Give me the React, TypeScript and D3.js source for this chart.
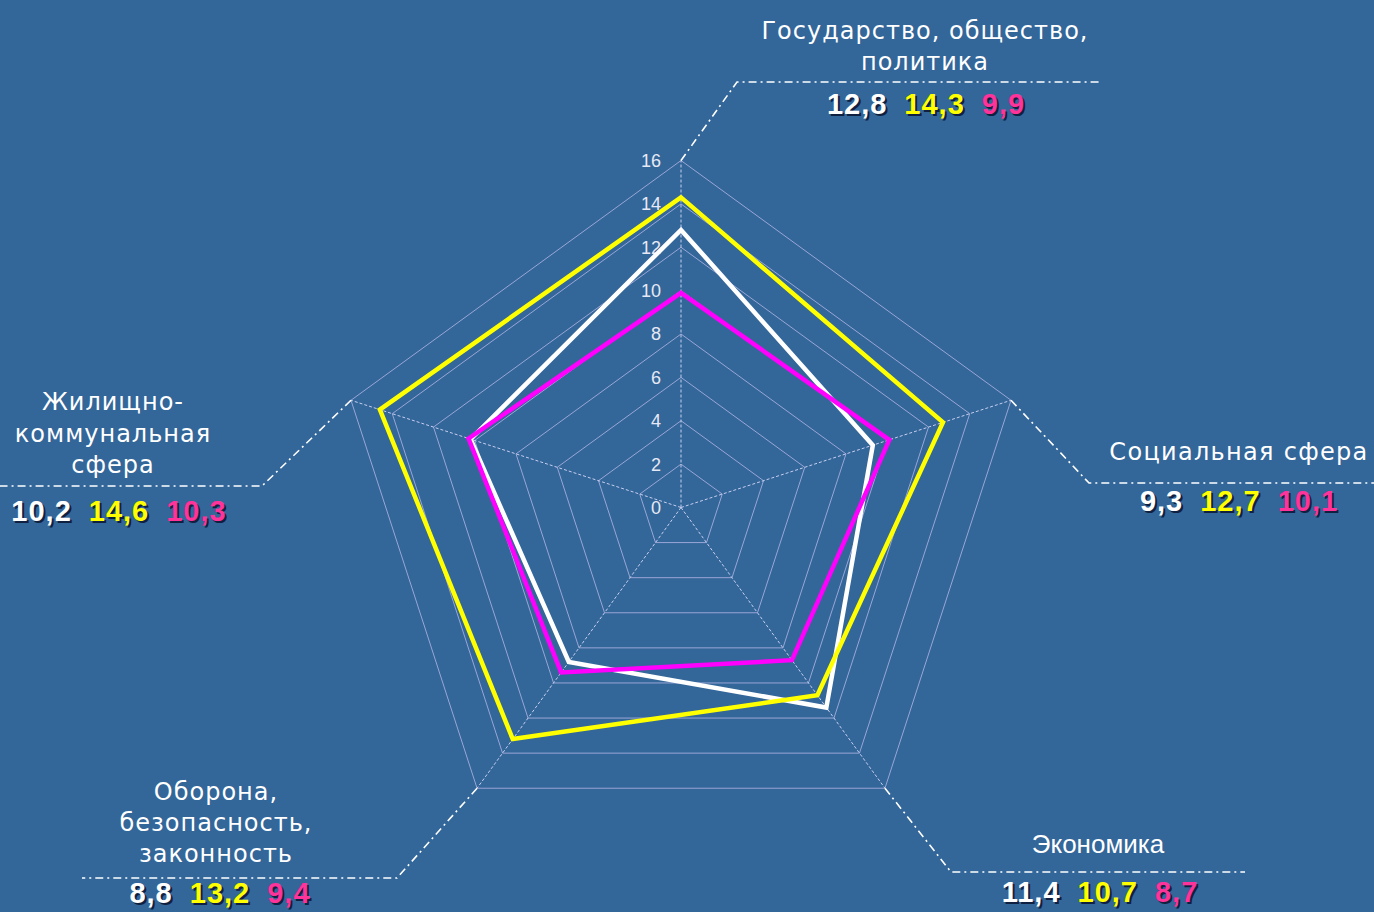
import React from "react";
import * as d3 from "d3";

const categories = [
  "Государство, общество, политика",
  "Социальная сфера",
  "Экономика",
  "Оборона, безопасность, законность",
  "Жилищно-коммунальная сфера",
];
const categoryLines = [
  ["Государство, общество,", "политика"],
  ["Социальная сфера"],
  ["Экономика"],
  ["Оборона,", "безопасность,", "законность"],
  ["Жилищно-", "коммунальная", "сфера"],
];
const seriesWhite = [12.8, 9.3, 11.4, 8.8, 10.2];
const seriesYellow = [14.3, 12.7, 10.7, 13.2, 14.6];
const seriesMagenta = [9.9, 10.1, 8.7, 9.4, 10.3];
const tickValues = [0, 2, 4, 6, 8, 10, 12, 14, 16];

const W = 1374;
const H = 912;
const CX = 681;
const CY = 507.5;
const R = 347;
const BG = "#336699";
const GRID = "#9aa6d6";

const seriesDefs = [
  { values: seriesWhite, color: "#ffffff", labelColor: "#ffffff" },
  { values: seriesYellow, color: "#ffff00", labelColor: "#ffff00" },
  { values: seriesMagenta, color: "#ff00ff", labelColor: "#ff3399" },
];

const VERDANA = "'DejaVu Sans', Verdana, sans-serif";
const ARIAL = "'Liberation Sans', Arial, sans-serif";

// layout of annotation blocks per category
const layout = [
  { lx: 925, ly: 39, lh: 31, font: VERDANA, size: 24, ls: 1, vx: 926, vy: 114, elbow: [737, 82], end: 1100 },
  { lx: 1239, ly: 460, lh: 31, font: VERDANA, size: 24, ls: 1.3, vx: 1239, vy: 511, elbow: [1089, 483], end: 1374 },
  { lx: 1098, ly: 853, lh: 31, font: ARIAL, size: 26, ls: 0, vx: 1100, vy: 902, elbow: [951, 872], end: 1245 },
  { lx: 216, ly: 800, lh: 31, font: VERDANA, size: 24, ls: 1, vx: 220, vy: 903, elbow: [397, 878], end: 82 },
  { lx: 113, ly: 410, lh: 31.5, font: VERDANA, size: 24, ls: 1, vx: 119, vy: 521, elbow: [262, 486], end: 0 },
];

const fmt = (v: number) => String(v).replace(".", ",");

export default function App() {
  React.useEffect(() => {
    document.body.style.margin = "0";
  }, []);

  const r = d3.scaleLinear().domain([0, 16]).range([0, R]);
  const angle = d3
    .scalePoint<number>()
    .domain(d3.range(categories.length))
    .range([0, (2 * Math.PI * (categories.length - 1)) / categories.length]);

  const pt = (i: number, v: number): [number, number] => {
    const a = angle(i) as number;
    return [CX + r(v) * Math.sin(a), CY - r(v) * Math.cos(a)];
  };

  const line = d3.line<[number, number]>().curve(d3.curveLinearClosed);

  return (
    <svg
      width={W}
      height={H}
      style={{ position: "absolute", left: 0, top: 0, background: BG }}
      xmlns="http://www.w3.org/2000/svg"
    >
      <rect x={0} y={0} width={W} height={H} fill={BG} />
      {/* rings */}
      {tickValues
        .filter((t) => t > 0)
        .map((t) => (
          <path
            key={"ring" + t}
            d={line(categories.map((_, i) => pt(i, t))) || ""}
            fill="none"
            stroke={GRID}
            strokeWidth={1}
          />
        ))}
      {/* spokes */}
      {categories.map((_, i) => {
        const [x, y] = pt(i, 16);
        return (
          <line
            key={"spoke" + i}
            x1={CX}
            y1={CY}
            x2={x}
            y2={y}
            stroke="#c8cff0"
            strokeWidth={1}
            strokeDasharray="3,2"
          />
        );
      })}
      {/* tick labels */}
      {tickValues.map((t) => (
        <text
          key={"tick" + t}
          x={661}
          y={CY - r(t)}
          dy="0.36em"
          textAnchor="end"
          fontFamily={ARIAL}
          fontSize={18}
          fill="#e6e9f5"
        >
          {t}
        </text>
      ))}
      {/* series */}
      {seriesDefs.map((s, si) => (
        <path
          key={"series" + si}
          d={line(s.values.map((v, i) => pt(i, v))) || ""}
          fill="none"
          stroke={s.color}
          strokeWidth={4.5}
          strokeLinejoin="miter"
        />
      ))}
      {/* leader lines */}
      {categories.map((_, i) => {
        const [x, y] = pt(i, 16);
        const L = layout[i];
        return (
          <polyline
            key={"lead" + i}
            points={`${x},${y} ${L.elbow[0]},${L.elbow[1]} ${L.end},${L.elbow[1]}`}
            fill="none"
            stroke="#ffffff"
            strokeWidth={1.6}
            strokeDasharray="8,4,2,4"
          />
        );
      })}
      {/* category labels */}
      {categoryLines.map((lines, i) => {
        const L = layout[i];
        return (
          <text
            key={"cat" + i}
            textAnchor="middle"
            fontFamily={L.font}
            fontSize={L.size}
            letterSpacing={L.ls}
            fill="#ffffff"
          >
            {lines.map((ln, j) => (
              <tspan key={j} x={L.lx} y={L.ly + j * L.lh}>
                {ln}
              </tspan>
            ))}
          </text>
        );
      })}
      {/* value labels */}
      {categories.map((_, i) => {
        const L = layout[i];
        const renderText = (dx: number, dy: number, shadow: boolean) => (
          <text
            key={(shadow ? "sh" : "val") + i}
            x={L.vx + dx}
            y={L.vy + dy}
            textAnchor="middle"
            fontFamily={ARIAL}
            fontWeight="bold"
            fontSize={29}
            letterSpacing={1}
          >
            {seriesDefs.map((s, si) => (
              <tspan
                key={si}
                dx={si === 0 ? 0 : 17}
                fill={shadow ? "#102040" : s.labelColor}
              >
                {fmt(s.values[i])}
              </tspan>
            ))}
          </text>
        );
        return (
          <g key={"vals" + i}>
            {renderText(2, 2, true)}
            {renderText(0, 0, false)}
          </g>
        );
      })}
    </svg>
  );
}
